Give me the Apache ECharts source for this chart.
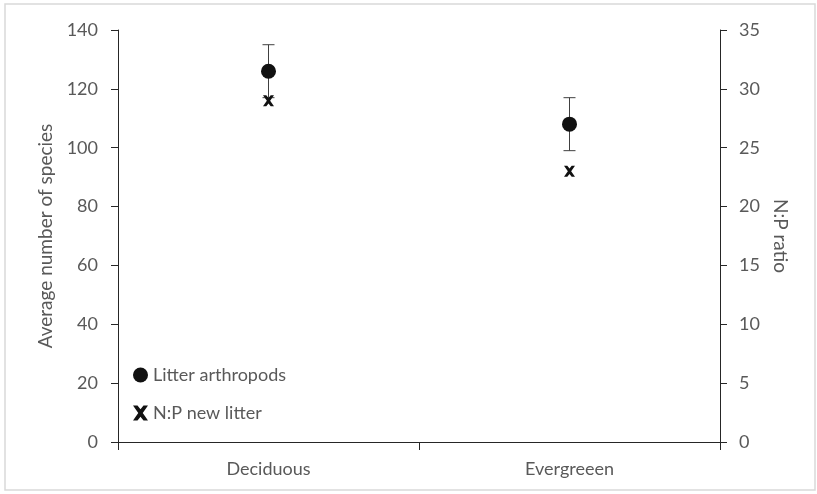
<!DOCTYPE html>
<html>
<head>
<meta charset="utf-8">
<script src="https://cdn.jsdelivr.net/npm/echarts@6/dist/echarts.min.js"></script>
<style>
  html, body { margin: 0; padding: 0; background: #fff; }
  #chart { width: 817px; height: 494px; }
</style>
</head>
<body>
<div id="chart"></div>
<script>
// categories and values
const categories = ["Deciduous", "Evergreeen"];
const speciesMean = [126, 108];
const speciesErr = [9, 9];
const npRatio = [29, 23];
const leftTicks = { min: 0, max: 140, interval: 20 };
const rightTicks = { min: 0, max: 35, interval: 5 };

const textColor = "#595959";
const axisColor = "#262626";
const font = "Lato";

// X-shaped marker like the excel one
const crossPath = "path://M0,0 L3,0 L5,2.5 L7,0 L10,0 L6.5,5 L10,10 L7,10 L5,7.5 L3,10 L0,10 L3.5,5 Z";

const chart = echarts.init(document.getElementById("chart"));

const option = {
  animation: false,
  textStyle: { fontFamily: font },
  graphic: [
    {
      type: "rect",
      shape: { x: 5, y: 4, width: 810, height: 486 },
      style: { fill: "none", stroke: "#d9d9d9", lineWidth: 1.5 },
      silent: true,
    },
  ],
  grid: { left: 118, right: 97, top: 30, bottom: 52 },
  legend: {
    left: 128,
    top: 361,
    orient: "vertical",
    itemGap: 20,
    itemWidth: 15,
    itemHeight: 15,
    textStyle: { color: textColor, fontSize: 18, fontFamily: font },
    data: [
      { name: "Litter arthropods", icon: "circle" },
      { name: "N:P new litter", icon: crossPath },
    ],
  },
  xAxis: {
    type: "category",
    data: categories,
    axisLine: { lineStyle: { color: axisColor, width: 1 } },
    axisTick: { show: true, length: 8, lineStyle: { color: axisColor } },
    axisLabel: { color: textColor, fontSize: 18, margin: 18, fontFamily: font },
  },
  yAxis: [
    {
      type: "value",
      min: leftTicks.min,
      max: leftTicks.max,
      interval: leftTicks.interval,
      name: "Average number of species",
      nameLocation: "middle",
      nameGap: 62,
      nameTextStyle: { color: textColor, fontSize: 19, fontFamily: font },
      axisLine: { show: true, lineStyle: { color: axisColor } },
      axisTick: { show: true, length: 7, lineStyle: { color: axisColor } },
      axisLabel: { color: textColor, fontSize: 18, margin: 20, fontFamily: font },
      splitLine: { show: false },
    },
    {
      type: "value",
      position: "right",
      min: rightTicks.min,
      max: rightTicks.max,
      interval: rightTicks.interval,
      name: "N:P ratio",
      nameLocation: "middle",
      nameGap: 44,
      nameRotate: -90,
      nameTextStyle: { color: textColor, fontSize: 19, fontFamily: font },
      axisLine: { show: true, lineStyle: { color: axisColor } },
      axisTick: { show: true, length: 7, lineStyle: { color: axisColor } },
      axisLabel: { color: textColor, fontSize: 18, margin: 19, fontFamily: font },
      splitLine: { show: false },
    },
  ],
  series: [
    {
      name: "errors",
      type: "custom",
      yAxisIndex: 0,
      z: 1,
      data: categories.map((c, i) => [i, speciesMean[i] - speciesErr[i], speciesMean[i] + speciesErr[i]]),
      renderItem: (params, api) => {
        const lo = api.coord([api.value(0), api.value(1)]);
        const hi = api.coord([api.value(0), api.value(2)]);
        const cap = 6;
        const style = { stroke: "#404040", lineWidth: 1 };
        return {
          type: "group",
          children: [
            { type: "line", shape: { x1: hi[0], y1: hi[1], x2: lo[0], y2: lo[1] }, style },
            { type: "line", shape: { x1: hi[0] - cap, y1: hi[1], x2: hi[0] + cap, y2: hi[1] }, style },
            { type: "line", shape: { x1: lo[0] - cap, y1: lo[1], x2: lo[0] + cap, y2: lo[1] }, style },
          ],
        };
      },
    },
    {
      name: "Litter arthropods",
      type: "scatter",
      yAxisIndex: 0,
      z: 3,
      symbol: "circle",
      symbolSize: 15,
      itemStyle: { color: "#111", opacity: 1 },
      data: speciesMean,
    },
    {
      name: "N:P new litter",
      type: "scatter",
      yAxisIndex: 1,
      z: 3,
      symbol: crossPath,
      symbolSize: 11,
      itemStyle: { color: "#111", opacity: 1 },
      data: npRatio,
    },
  ],
};

chart.setOption(option);
</script>
</body>
</html>
